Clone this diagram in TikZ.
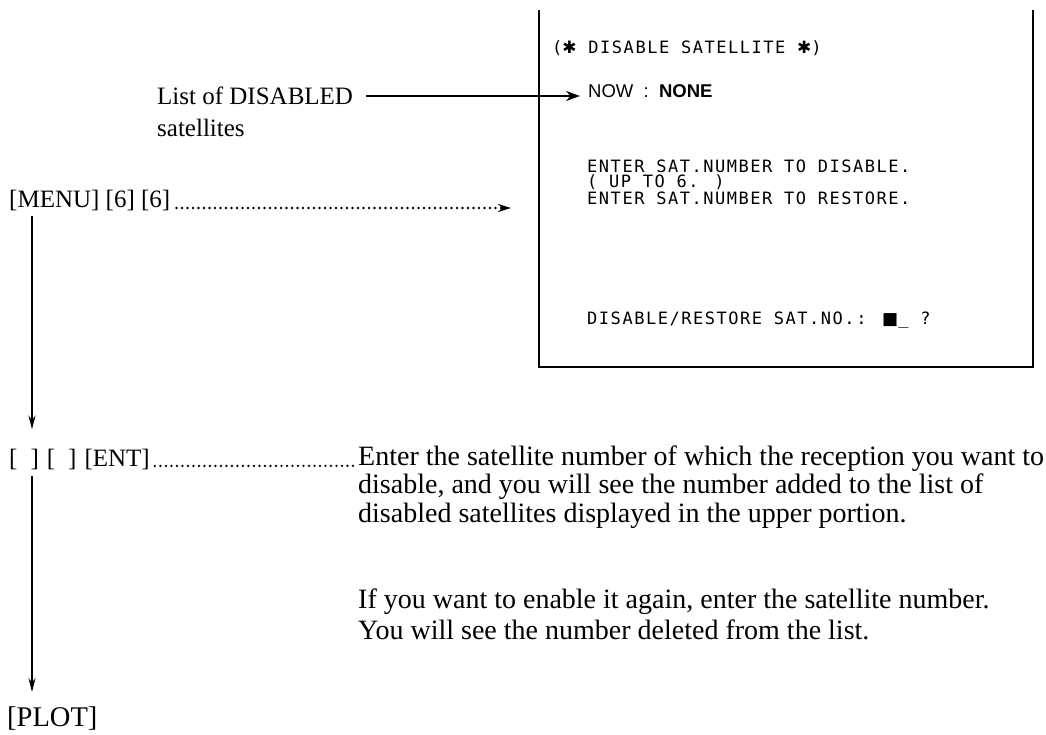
\documentclass[tikz,border=0pt]{standalone}
\usepackage{fontspec}
\setmainfont{Liberation Serif}
\newfontfamily\scrfont{DejaVu Sans Mono}[LetterSpace=9]
\newfontfamily\symfont{DejaVu Sans}
\newfontfamily\nowfont{Liberation Sans}
\usetikzlibrary{arrows.meta,calc}
\begin{document}
\begin{tikzpicture}[x=1pt,y=-1pt,
  lbl/.style={inner sep=0pt, anchor=west, font=\fontsize{25}{30}\selectfont},
  big/.style={inner sep=0pt, anchor=west, font=\fontsize{28.5}{33}\selectfont},
  desc/.style={inner sep=0pt, anchor=west, font=\fontsize{28}{33}\selectfont},
  scr/.style={inner sep=0pt, anchor=west, font=\scrfont\fontsize{17}{20}\selectfont},
  conn/.style={line width=1.6pt},
  vtip/.style={-{Stealth[length=14pt,width=7pt]}},
  dots/.style={line width=2.6pt, line cap=round, dash pattern=on 0pt off 5.5pt}]
\useasboundingbox (0,0) rectangle (1046,735);
% screen
\draw[line width=2.2pt] (539,10) -- (539,367) -- (1033,367) -- (1033,10);
\node[scr] (title) at (552,48) {({\symfont ✱} DISABLE SATELLITE {\symfont ✱})};
\node[inner sep=0pt, anchor=west, font=\nowfont\fontsize{18.5}{22}\selectfont] (now) at (588,91) {NOW\ \ :\ \ \textbf{NONE}};
\node[scr] (l1) at (587,166) {ENTER SAT.NUMBER TO DISABLE.};
\node[scr] (l2) at (587,182) {( UP TO 6. )};
\node[scr] (l3) at (587,198) {ENTER SAT.NUMBER TO RESTORE.};
\node[scr] (l4) at (587,320) {DISABLE/RESTORE SAT.NO.: {\symfont ■}\_ ?};
% labels
\node[lbl] (lst) at (157,96) {List of DISABLED};
\node[lbl] (sat) at (157,128) {satellites};
\draw[conn, shorten <=13pt, shorten >=8pt, -{Stealth[length=14pt,width=10pt]}] (lst.east) -- (lst.east -| now.west);
\node[lbl] (menu) at (9,201) {[MENU] [6] [6]};
\coordinate (mtip) at (511,206);
\draw[dots, shorten <=6pt, -{Stealth[length=13pt,width=8pt]}] (menu.base east) -- (menu.base east -| mtip);
\node[lbl] (ent) at (9,459) {[\hspace{13pt}]\hspace{8pt}[\hspace{13pt}]\hspace{8pt}[ENT]};
\node[desc] (d1) at (358,459) {Enter the satellite number of which the reception you want to};
\node[desc] (d2) at (358,487) {disable, and you will see the number added to the list of};
\node[desc] (d3) at (358,516) {disabled satellites displayed in the upper portion.};
\node[desc] (d4) at (358,602) {If you want to enable it again, enter the satellite number.};
\node[desc] (d5) at (358,630) {You will see the number deleted from the list.};
\draw[dots, shorten <=5pt, shorten >=5pt] (ent.base east) -- (d1.base west);
\node[big] (plot) at (7,719) {[PLOT]};
\draw[conn, vtip, shorten <=4pt, shorten >=19pt] ([xshift=23pt]menu.south west) -- ([xshift=23pt]ent.north west);
\draw[conn, vtip, shorten <=6pt, shorten >=15pt] ([xshift=23pt]ent.south west) -- ([xshift=25pt]plot.north west);
\end{tikzpicture}
\end{document}
